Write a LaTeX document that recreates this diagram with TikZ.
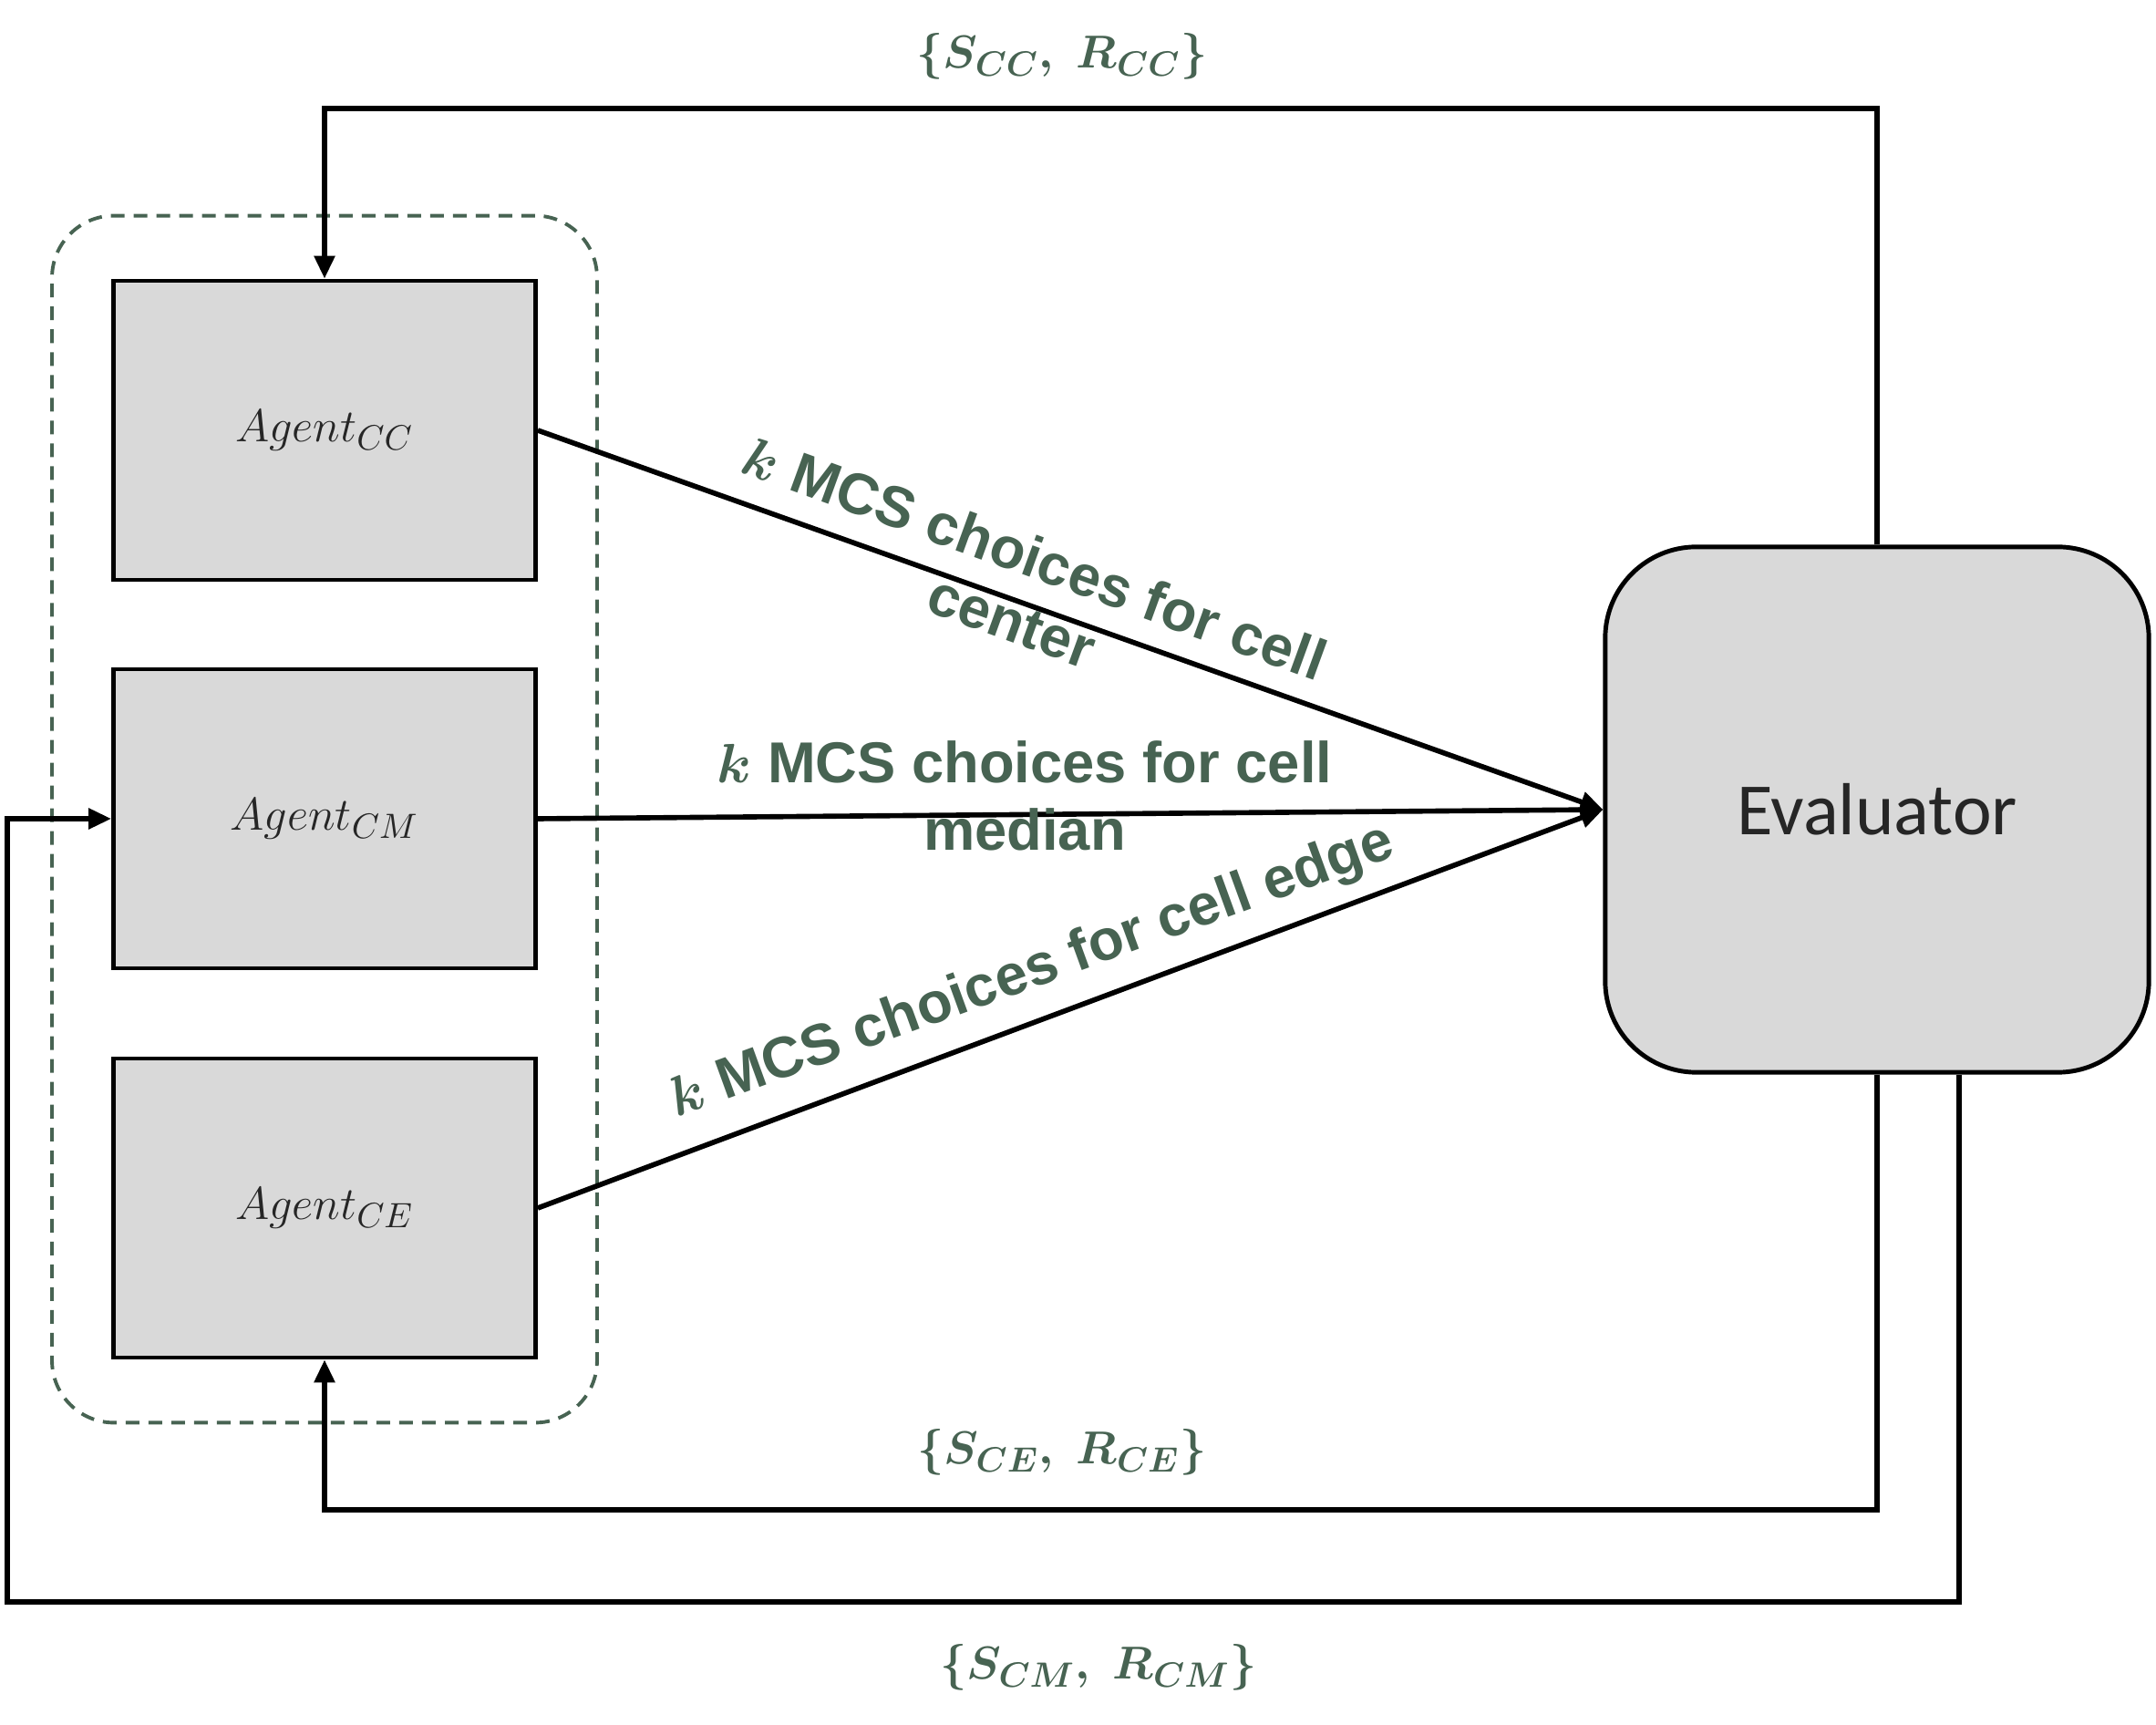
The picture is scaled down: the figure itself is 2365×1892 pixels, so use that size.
\documentclass[tikz,border=0pt]{standalone}
\usepackage{amsmath}
\usepackage{bm}
\usepackage{fontspec}
\newfontfamily\lblfont{Liberation Sans}
\newfontfamily\evfont{Carlito}
\usetikzlibrary{arrows.meta,fit,calc}
\definecolor{lblgreen}{HTML}{476352}
\definecolor{boxgray}{HTML}{D9D9D9}
\begin{document}
\begin{tikzpicture}[x=0.01cm, y=-0.01cm,
  agentbox/.style={draw=black, line width=1.3pt, fill=boxgray, minimum width=4.63cm, minimum height=3.28cm, inner sep=0pt, font=\fontsize{15.5}{18}\selectfont, text=black!85},
  evalbox/.style={draw=black, line width=1.4pt, fill=boxgray, rounded corners=1cm, minimum width=5.96cm, minimum height=5.76cm, inner sep=0pt, font=\evfont\fontsize{23}{28}\selectfont, text=black!85},
  conn/.style={line width=1.6pt},
  arr/.style={conn, -{Triangle[length=0.25cm, width=0.22cm]}},
  mcslabel/.style={text=lblgreen, font=\lblfont\bfseries\fontsize{18}{21}\selectfont, align=center, inner sep=0pt},
  fblabel/.style={text=lblgreen, font=\fontsize{15.5}{18}\selectfont, inner sep=0pt},
  grouping/.style={draw=lblgreen, dash pattern=on 0.15cm off 0.1cm, line width=1.1pt, rounded corners=0.68cm}
]
\useasboundingbox (0,0) rectangle (2365,1892);

% agents
\node[agentbox] (cc) at (356,472) {$Agent_{CC}$};
\node[agentbox] (cm) at (356,898) {$Agent_{CM}$};
\node[agentbox] (ce) at (356,1325) {$Agent_{CE}$};
\node[grouping, fit=(cc)(ce), inner xsep=0.65cm, inner ysep=0.69cm] (grp) {};

% evaluator
\node[evalbox] (ev) at (2059,888) {Evaluator};

% forward arrows
\draw[arr] (cc.east) -- (ev.west);
\draw[arr] (cm.east) -- (ev.west);
\draw[arr] (ce.east) -- (ev.west);

% feedback loops
\coordinate (toprail) at (0,119);
\draw[arr] (ev.north) -- (ev.north |- toprail) -| (cc.north);

\coordinate (cerail) at (0,1656);
\draw[arr] (ev.south) -- (ev.south |- cerail) -| (ce.south);

\coordinate (evcm) at ($(ev.south)+(90,0)$);
\coordinate (cmrail) at (0,1757);
\coordinate (leftrail) at (8,0);
\draw[arr] (evcm) -- (evcm |- cmrail) -- (leftrail |- cmrail) -- (leftrail |- cm.west) -- (cm.west);

% labels
\node[fblabel] (lcc) at (1165,62) {$\bm{\{S_{CC},\ R_{CC}\}}$};
\node[fblabel] (lce) at (1165,1593) {$\bm{\{S_{CE},\ R_{CE}\}}$};
\node[fblabel] (lcm) at (1205,1829) {$\bm{\{S_{CM},\ R_{CM}\}}$};

\node[mcslabel, rotate=-20] (mcc) at (1123,646) {$\bm{k}$ MCS choices for cell\\center};
\node[mcslabel] (mcm) at (1124,873) {$\bm{k}$ MCS choices for cell\\median};
\node[mcslabel, rotate=20] (mce) at (1132,1067) {$\bm{k}$ MCS choices for cell edge};
\end{tikzpicture}
\end{document}
